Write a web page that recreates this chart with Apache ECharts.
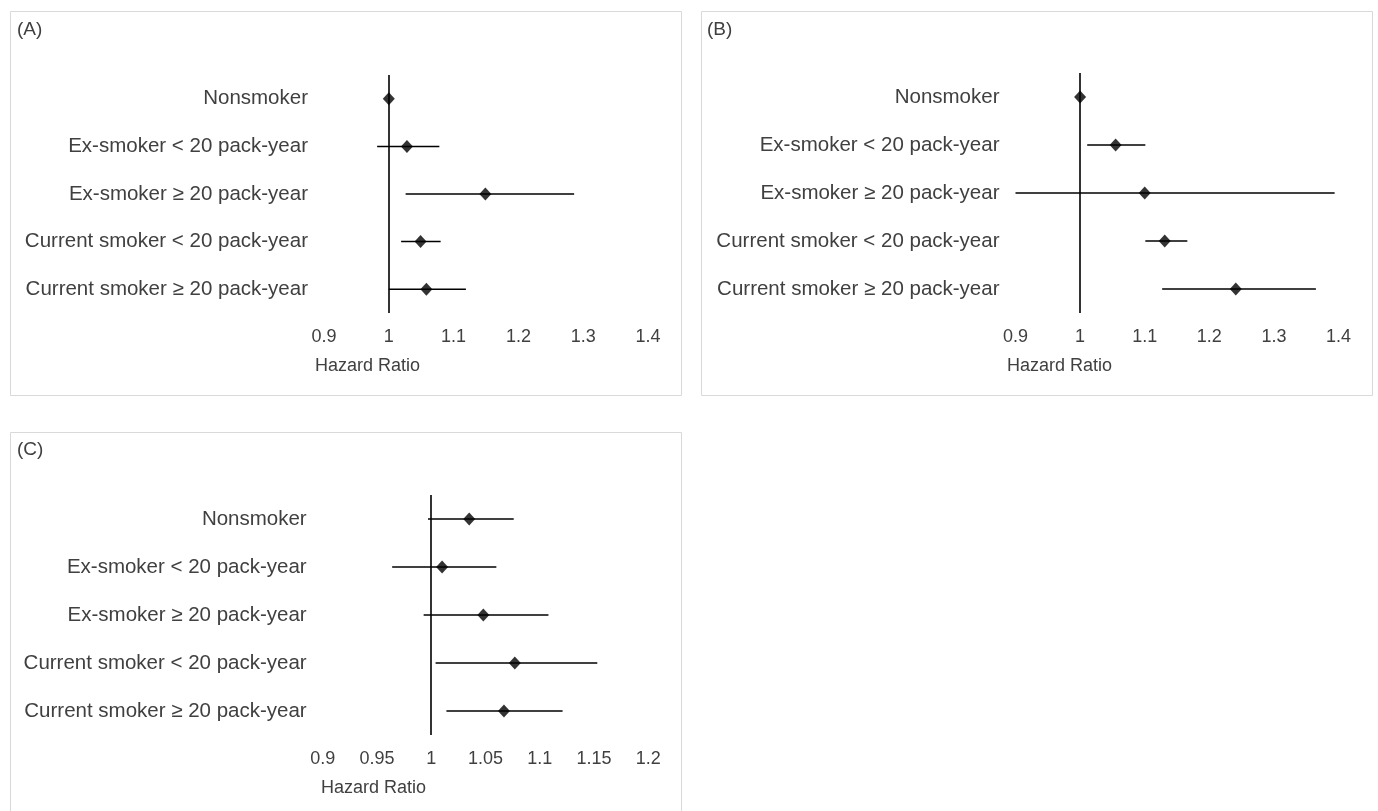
<!DOCTYPE html>
<html>
<head>
<meta charset="utf-8">
<script src="https://cdn.jsdelivr.net/npm/echarts@6/dist/echarts.min.js"></script>
<style>
html,body{margin:0;padding:0;background:#fff;}
#main{width:1378px;height:811px;}
</style>
</head>
<body>
<div id="main"></div>
<script>
var categories = ['Nonsmoker', 'Ex-smoker < 20 pack-year', 'Ex-smoker \u2265 20 pack-year', 'Current smoker < 20 pack-year', 'Current smoker \u2265 20 pack-year'];

var hrA = [1.000, 1.028, 1.149, 1.049, 1.058];
var loA = [1.000, 0.982, 1.026, 1.019, 1.000];
var hiA = [1.000, 1.078, 1.286, 1.080, 1.119];

var hrB = [1.000, 1.055, 1.100, 1.131, 1.241];
var loB = [1.000, 1.011, 0.900, 1.101, 1.127];
var hiB = [1.000, 1.101, 1.394, 1.166, 1.365];

var hrC = [1.035, 1.010, 1.048, 1.077, 1.067];
var loC = [0.997, 0.964, 0.993, 1.004, 1.014];
var hiC = [1.076, 1.060, 1.108, 1.153, 1.121];

var panelLabels = ['(A)', '(B)', '(C)'];
var axisTitle = 'Hazard Ratio';
var refValue = 1;
var xMinAB = 0.9, xMaxAB = 1.4, xStepAB = 0.1;
var xMinC = 0.9, xMaxC = 1.2, xStepC = 0.05;

var FONT = '"Liberation Sans", Arial, sans-serif';
var TXT = '#404040';

var chart = echarts.init(document.getElementById('main'));

var grids = [
  {left: 324, top: 75, width: 324, height: 238},
  {left: 1015.5, top: 73, width: 323, height: 240},
  {left: 322.7, top: 495, width: 325.6, height: 240}
];
var ranges = [[xMinAB, xMaxAB, xStepAB], [xMinAB, xMaxAB, xStepAB], [xMinC, xMaxC, xStepC]];
var sets = [[hrA, loA, hiA], [hrB, loB, hiB], [hrC, loC, hiC]];

var xAxes = [], yAxes = [], series = [];
for (var i = 0; i < 3; i++) {
  xAxes.push({
    type: 'value', gridIndex: i, min: ranges[i][0], max: ranges[i][1], interval: ranges[i][2],
    axisLine: {show: false}, axisTick: {show: false}, splitLine: {show: false},
    axisLabel: {color: TXT, fontSize: 18, fontFamily: FONT, margin: 15}
  });
  yAxes.push({
    type: 'category', gridIndex: i, data: categories, inverse: true,
    axisLine: {show: false}, axisTick: {show: false}, splitLine: {show: false},
    axisLabel: {color: TXT, fontSize: 20.5, fontFamily: FONT, margin: 16}
  });
  var s = sets[i];
  var ciData = categories.map(function (c, k) { return [s[1][k], s[2][k], k]; });
  var ptData = categories.map(function (c, k) { return [s[0][k], k]; });
  series.push({
    type: 'custom', xAxisIndex: i, yAxisIndex: i, silent: true,
    data: ciData,
    encode: {x: [0, 1], y: 2},
    renderItem: function (params, api) {
      var a = api.coord([api.value(0), api.value(2)]);
      var b = api.coord([api.value(1), api.value(2)]);
      return {type: 'line', shape: {x1: a[0], y1: a[1], x2: b[0], y2: b[1]},
              style: {stroke: '#000', lineWidth: 1.5}};
    },
    z: 3
  });
  series.push({
    type: 'scatter', xAxisIndex: i, yAxisIndex: i, silent: true,
    data: ptData, symbol: 'diamond', symbolSize: [12, 13],
    itemStyle: {color: '#000'}, z: 5,
    markLine: {
      silent: true, symbol: 'none', label: {show: false},
      lineStyle: {color: '#000', width: 1.6, type: 'solid'},
      data: [{xAxis: refValue}], animation: false
    }
  });
}

var graphics = [
  {type: 'rect', shape: {x: 10.5, y: 11.5, width: 671, height: 384}, style: {fill: null, stroke: '#d9d9d9', lineWidth: 1}},
  {type: 'rect', shape: {x: 701.5, y: 11.5, width: 671, height: 384}, style: {fill: null, stroke: '#d9d9d9', lineWidth: 1}},
  {type: 'rect', shape: {x: 10.5, y: 432.5, width: 671, height: 384}, style: {fill: null, stroke: '#d9d9d9', lineWidth: 1}},
  {type: 'text', x: 17, y: 30, style: {text: panelLabels[0], font: '19px ' + FONT, fill: TXT, textVerticalAlign: 'middle'}},
  {type: 'text', x: 707, y: 30, style: {text: panelLabels[1], font: '19px ' + FONT, fill: TXT, textVerticalAlign: 'middle'}},
  {type: 'text', x: 17, y: 450, style: {text: panelLabels[2], font: '19px ' + FONT, fill: TXT, textVerticalAlign: 'middle'}},
  {type: 'text', x: 315, y: 366, style: {text: axisTitle, font: '18px ' + FONT, fill: TXT, textVerticalAlign: 'middle'}},
  {type: 'text', x: 1007, y: 366, style: {text: axisTitle, font: '18px ' + FONT, fill: TXT, textVerticalAlign: 'middle'}},
  {type: 'text', x: 321, y: 788, style: {text: axisTitle, font: '18px ' + FONT, fill: TXT, textVerticalAlign: 'middle'}}
];

chart.setOption({
  animation: false,
  backgroundColor: '#fff',
  grid: grids,
  xAxis: xAxes,
  yAxis: yAxes,
  series: series,
  graphic: graphics
});
</script>
</body>
</html>
